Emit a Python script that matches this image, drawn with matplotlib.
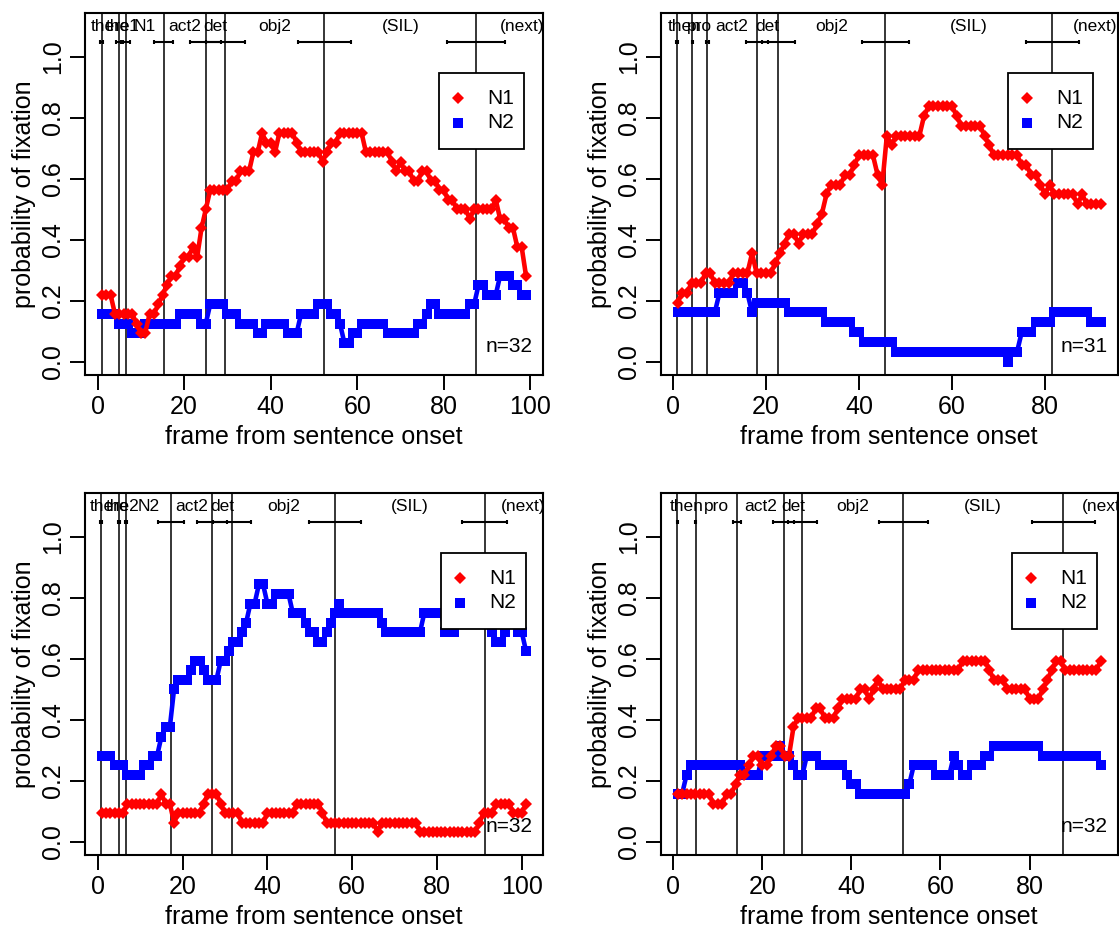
import matplotlib
matplotlib.use("Agg")
import matplotlib.pyplot as plt
from matplotlib.patches import Rectangle
import matplotlib.transforms as mtransforms

plt.rcParams['font.family'] = ['Liberation Sans', 'DejaVu Sans']

# ---------------- data (counts of fixating participants per frame) ----------------
p1_n = 32
p1_N1 = [7,7,7,5,5,5,5,5,4,3, 3,5,5,6,7,8,9,9,10,11, 11,12,11,14,16,18,18,18,18,18,
         19,19,20,20,20,22,22,24,23,23, 22,24,24,24,24,23,22,22,22,22, 22,21,22,23,23,24,24,24,24,24,
         24,22,22,22,22,22,22,21,20,21, 20,20,19,19,20,20,19,19,18,18, 17,17,16,16,16,15,16,16,16,16,
         16,17,15,15,14,14,12,12,9]
p1_N2 = [5,5,5,5,4,4,4,3,3,3, 4,4,4,4,4,4,4,4,5,5, 5,5,5,4,4,6,6,6,6,5,
         5,5,4,4,4,4,3,3,4,4, 4,4,4,3,3,3,5,5,5,5, 6,6,6,5,5,4,2,2,3,3,
         4,4,4,4,4,4,3,3,3,3, 3,3,3,4,4,5,6,6,5,5, 5,5,5,5,5,6,6,8,8,7,
         7,7,9,9,9,8,8,7,7]
p1_words = ["there", "the1", "N1", "act2", "det", "obj2", "(SIL)", "(next)"]
p1_onsets = [0.9, 4.99, 6.45, 15.26, 25.0, 29.5, 52.4, 87.5]
p1_spread = [0.25, 0.8, 1.0, 2.2, 3.55, 4.5, 6.06, 6.7]
p1_end = 108.9

p2_n = 31
p2_N1 = [6,7,7,8,8,8,9,9,8,8, 8,8,9,9,9,9,11,9,9,9, 9,10,11,12,13,13,12,13,13,13,
         14,15,17,18,18,18,19,19,20,21, 21,21,21,19,18,23,22,23,23,23, 23,23,23,25,26,26,26,26,26,26,
         25,24,24,24,24,24,23,22,21,21, 21,21,21,21,20,20,19,19,18,17, 18,17,17,17,17,17,16,17,16,16,
         16,16]
p2_N2 = [5,5,5,5,5,5,5,5,5,7, 7,7,7,8,8,7,5,6,6,6, 6,6,6,6,5,5,5,5,5,5,
         5,5,4,4,4,4,4,4,3,3, 2,2,2,2,2,2,2,1,1,1, 1,1,1,1,1,1,1,1,1,1,
         1,1,1,1,1,1,1,1,1,1, 1,0,1,1,3,3,3,4,4,4, 4,5,5,5,5,5,5,5,5,4,
         4,4]
p2_words = ["then", "pro", "act2", "det", "obj2", "(SIL)", "(next)"]
p2_onsets = [0.86, 4.15, 7.36, 18.0, 22.65, 45.7, 81.6]
p2_spread = [0.15, 0.15, 0.3, 2.4, 3.6, 5.1, 5.7]
p2_end = 99.8

p3_n = 32
p3_N1 = [3,3,3,3,3,3,4,4,4,4, 4,4,4,4,5,4,4,2,3,3, 3,3,3,3,4,5,5,5,4,3,
         3,3,3,2,2,2,2,2,2,3, 3,3,3,3,3,3,4,4,4,4, 4,4,3,2,2,2,2,2,2,2,
         2,2,2,2,2,1,2,2,2,2, 2,2,2,2,2,1,1,1,1,1, 1,1,1,1,1,1,1,1,1,2,
         3,3,3,4,4,4,4,3,3,3,4]
p3_N2 = [9,9,9,8,8,8,7,7,7,7, 8,8,9,9,11,12,12,16,17,17, 17,18,19,19,18,17,17,17,19,19,
         20,21,21,22,23,25,25,27,27,25, 25,26,26,26,26,24,24,24,23,22, 22,21,21,22,23,24,25,24,24,24,
         24,24,24,24,24,24,23,22,22,22, 22,22,22,22,22,22,24,24,24,24, 24,22,22,22,24,24,24,24,24,24,
         24,24,22,21,21,22,24,24,22,22,20]
p3_words = ["there", "the2", "N2", "act2", "det", "obj2", "(SIL)", "(next)"]
p3_onsets = [0.8, 4.97, 6.7, 17.3, 27.0, 31.7, 55.9, 91.3]
p3_spread = [0.2, 0.3, 0.3, 3.0, 3.5, 4.5, 6.1, 5.3]
p3_end = 109.3

p4_n = 32
p4_N1 = [5,5,5,5,5,5,5,5,4,4, 4,5,5,6,7,7,8,9,9,8, 8,9,10,10,9,9,12,13,13,13,
         13,14,14,13,13,13,14,15,15,15, 15,16,16,15,16,17,16,16,16,16, 16,17,17,17,18,18,18,18,18,18,
         18,18,18,18,19,19,19,19,19,19, 18,17,17,17,16,16,16,16,16,15, 15,15,16,17,18,19,19,18,18,18,
         18,18,18,18,18,19]
p4_N2 = [5,5,7,8,8,8,8,8,8,8, 8,8,8,8,8,7,7,7,7,9, 9,9,9,10,9,9,8,7,7,9,
         9,9,8,8,8,8,8,8,7,6, 6,5,5,5,5,5,5,5,5,5, 5,5,6,8,8,8,8,8,7,7,
         7,7,9,8,7,7,8,8,8,9, 9,10,10,10,10,10,10,10,10,10, 10,10,9,9,9,9,9,9,9,9,
         9,9,9,9,9,8]
p4_words = ["then", "pro", "act2", "det", "obj2", "(SIL)", "(next)"]
p4_onsets = [0.9, 5.08, 14.4, 24.8, 29.0, 51.6, 87.6]
p4_spread = [0.15, 0.15, 0.9, 2.3, 3.3, 5.5, 7.1]
p4_end = 106.0

xticks_long = [0, 20, 40, 60, 80, 100]
xticks_short = [0, 20, 40, 60, 80]
yticks = [0.0, 0.2, 0.4, 0.6, 0.8, 1.0]
ytick_labels = ["0.0", "0.2", "0.4", "0.6", "0.8", "1.0"]
series_labels = ["N1", "N2"]

panels = [
    dict(n=p1_n, N1=p1_N1, N2=p1_N2, words=p1_words, onsets=p1_onsets, spread=p1_spread, end=p1_end,
         xt=xticks_long, pos=(85, 13, 458, 362), leg=(439, 73)),
    dict(n=p2_n, N1=p2_N1, N2=p2_N2, words=p2_words, onsets=p2_onsets, spread=p2_spread, end=p2_end,
         xt=xticks_short, pos=(660.7, 13, 457, 362), leg=(1008, 73)),
    dict(n=p3_n, N1=p3_N1, N2=p3_N2, words=p3_words, onsets=p3_onsets, spread=p3_spread, end=p3_end,
         xt=xticks_long, pos=(85, 493, 458, 362), leg=(441, 553)),
    dict(n=p4_n, N1=p4_N1, N2=p4_N2, words=p4_words, onsets=p4_onsets, spread=p4_spread, end=p4_end,
         xt=xticks_short, pos=(660.7, 493, 457, 362), leg=(1012, 553)),
]

RED_MS = 6.2
BLUE_MS = 7.8
LINE_W = 3.3

W, H = 1119, 932
fig = plt.figure(figsize=(W / 100, H / 100), dpi=100)

for p in panels:
    x0, y0, w, h = p["pos"]
    ax = fig.add_axes([x0 / W, (H - y0 - h) / H, w / W, h / H])
    n = p["n"]
    N = len(p["N1"])
    frames = list(range(1, N + 1))
    v1 = [c / n for c in p["N1"]]
    v2 = [c / n for c in p["N2"]]
    ext = 0.04 * (N - 1)
    ax.set_xlim(1 - ext, N + ext)
    ax.set_ylim(-0.044, 1.144)

    for xo in p["onsets"]:
        ax.axvline(xo, color="black", lw=1.1, zorder=1)
    ax.errorbar(p["onsets"], [1.05] * len(p["onsets"]), xerr=p["spread"], fmt="none",
                ecolor="black", elinewidth=1.5, capsize=1.6, capthick=1.5, zorder=2)
    bounds = list(p["onsets"]) + [p["end"]]
    for i, wd in enumerate(p["words"]):
        xm = 0.5 * (bounds[i] + bounds[i + 1])
        ax.text(xm, 1.1, wd, ha="center", va="center", fontsize=12.5, clip_on=True, zorder=3)

    ax.plot(frames, v2, "-", color="#0000FF", lw=LINE_W, marker="s", ms=BLUE_MS, mew=0, zorder=4)
    ax.plot(frames, v1, "-", color="#FF0000", lw=LINE_W, marker="D", ms=RED_MS, mew=0, zorder=5)

    # legend box
    lx, ly = p["leg"]
    lw_, lh_ = 85, 76
    fx = (lx - x0) / w
    fy = (y0 + h - ly) / h
    ax.add_patch(Rectangle((fx, fy - lh_ / h), lw_ / w, lh_ / h, transform=ax.transAxes,
                           facecolor="white", edgecolor="black", lw=1.3, zorder=8, clip_on=False))
    for j, (lab, col, mk, ms) in enumerate([(series_labels[0], "#FF0000", "D", RED_MS),
                                            (series_labels[1], "#0000FF", "s", BLUE_MS)]):
        yy = fy - (25 + 25 * j) / h
        ax.plot([fx + 19 / w], [yy], marker=mk, color=col, ms=ms, mew=0, transform=ax.transAxes,
                zorder=9, clip_on=False)
        ax.text(fx + 48 / w, yy, lab, ha="left", va="center", fontsize=15, transform=ax.transAxes,
                zorder=9)

    trans = mtransforms.blended_transform_factory(ax.transAxes, ax.transData)
    ax.text(1 - 10 / w, 0.05, "n=%d" % n, ha="right", va="center", fontsize=15,
            transform=trans, zorder=9)

    ax.set_xticks(p["xt"])
    ax.set_xticklabels([str(t) for t in p["xt"]])
    ax.set_yticks(yticks)
    ax.set_yticklabels(ytick_labels)
    ax.tick_params(axis="both", direction="out", length=10.8, width=1.4, labelsize=18, pad=3.6)
    for lbl in ax.get_yticklabels():
        lbl.set_rotation(90)
        lbl.set_va("center")
    for s in ax.spines.values():
        s.set_linewidth(1.5)
    ax.set_xlabel("frame from sentence onset", fontsize=18, va="center")
    ax.xaxis.set_label_coords(0.5, -(437 - 375) / h)
    ax.set_ylabel("probability of fixation", fontsize=18, va="center")
    ax.yaxis.set_label_coords(-61 / w, 0.5)

fig.savefig("out.png", dpi=100)
